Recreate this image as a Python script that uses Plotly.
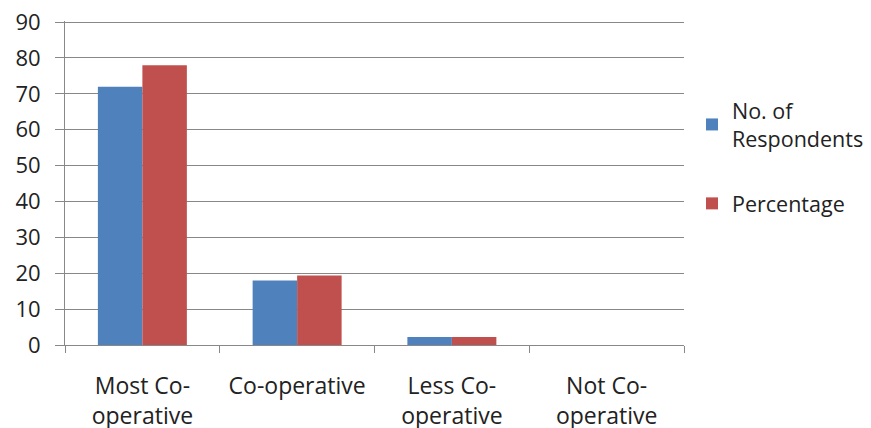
import plotly.graph_objects as go

categories = ["Most Co-<br>operative", "Co-operative", "Less Co-<br>operative", "Not Co-<br>operative"]
respondents = [72, 18, 2.2, 0]
percentage = [78, 19.4, 2.2, 0]
series_names = ["No. of<br>Respondents", "Percentage"]
y_ticks = list(range(0, 91, 10))

FONT = "Open Sans"
W, H = 863, 420
fig = go.Figure()
fig.add_trace(go.Bar(x=categories, y=respondents, name=series_names[0],
                     marker=dict(color="#4F81BD", line=dict(width=0)), legendgroup="a"))
fig.add_trace(go.Bar(x=categories, y=percentage, name=series_names[1],
                     marker=dict(color="#C0504D", line=dict(width=0)), legendgroup="b"))

fig.update_layout(
    width=W, height=H,
    margin=dict(l=57, r=187, t=13, b=83, autoexpand=False),
    paper_bgcolor="white", plot_bgcolor="white",
    font=dict(family=FONT, size=23, color="#222222"),
    barmode="group", bargap=0.425, bargroupgap=0,
    showlegend=True,
    legend=dict(xref="container", yref="container", x=684 / W, xanchor="left",
                y=1 - 82 / H, yanchor="top",
                font=dict(size=21.5), tracegroupgap=34, traceorder="grouped",
                itemwidth=30),
    xaxis=dict(showline=True, linecolor="#888888", linewidth=1, automargin=False,
               ticks="outside", tickson="boundaries", ticklen=7, tickcolor="#888888",
               showgrid=False, tickfont=dict(size=23), ticklabelstandoff=20,
               ticklabeloverflow="allow"),
    yaxis=dict(range=[0, 90.3], tickvals=y_ticks, showline=True, linecolor="#888888",
               linewidth=1, ticks="outside", ticklen=9, tickcolor="#888888",
               showgrid=True, gridcolor="#888888", gridwidth=1, automargin=False,
               tickfont=dict(size=22), zeroline=False, ticklabelstandoff=10,
               ticklabeloverflow="allow"),
)
fig.write_html("out.html")
